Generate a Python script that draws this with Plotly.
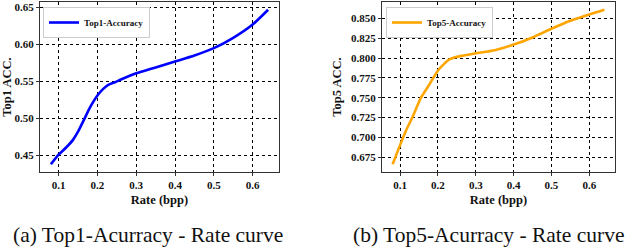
import plotly.graph_objects as go

# Top1 curve
rate1 = [0.08, 0.10, 0.12, 0.137, 0.15, 0.167, 0.18, 0.20, 0.215, 0.228, 0.245, 0.262, 0.30, 0.35, 0.40, 0.45, 0.50, 0.55, 0.60, 0.64]
acc1 = [0.438, 0.451, 0.461, 0.471, 0.482, 0.500, 0.514, 0.531, 0.540, 0.5455, 0.549, 0.553, 0.561, 0.569, 0.577, 0.585, 0.595, 0.609, 0.627, 0.647]

# Top5 curve
rate5 = [0.08, 0.10, 0.115, 0.133, 0.155, 0.177, 0.20, 0.215, 0.229, 0.245, 0.265, 0.30, 0.35, 0.40, 0.45, 0.50, 0.55, 0.60, 0.64]
acc5 = [0.666, 0.6905, 0.708, 0.726, 0.750, 0.7665, 0.7843, 0.792, 0.798, 0.801, 0.803, 0.806, 0.810, 0.817, 0.826, 0.837, 0.847, 0.855, 0.861]

xticks = [0.1, 0.2, 0.3, 0.4, 0.5, 0.6]
yticks1 = [0.45, 0.50, 0.55, 0.60, 0.65]
yticks5 = [0.675, 0.700, 0.725, 0.750, 0.775, 0.800, 0.825, 0.850]

captions = ["(a) Top1-Acurracy - Rate curve", "(b) Top5-Acurracy - Rate curve"]

W, H = 640, 248
SERIF = "Liberation Serif, Times New Roman, serif"

fig = go.Figure()
fig.add_trace(go.Scatter(x=rate1, y=acc1, mode="lines", name="Top1-Accuracy",
                         line=dict(color="#0000ff", width=2.6, shape="spline", smoothing=0.6),
                         xaxis="x", yaxis="y", legend="legend"))
fig.add_trace(go.Scatter(x=rate5, y=acc5, mode="lines", name="Top5-Accuracy",
                         line=dict(color="#ffa500", width=2.6, shape="spline", smoothing=0.6),
                         xaxis="x2", yaxis="y2", legend="legend2"))

def px_x(v):
    return v / W

def px_y(v):
    return 1 - v / H

tickfont = dict(family=SERIF, size=11, color="#111", weight="bold")
titlefont = dict(family=SERIF, size=12.5, color="#111", weight="bold")

common_axis = dict(showline=True, linecolor="#333", linewidth=1.3, mirror=True,
                   showgrid=True, gridcolor="black", griddash="dot", gridwidth=1,
                   ticks="outside", ticklen=3, tickcolor="#333", tickfont=tickfont,
                   zeroline=False)

def rng(vals, m=0.05):
    lo, hi = min(vals), max(vals)
    d = (hi - lo) * m
    return [lo - d, hi + d]

legend_font = dict(family=SERIF, size=9, color="#111", weight="bold")

fig.update_layout(
    width=W, height=H, margin=dict(l=0, r=0, t=0, b=0),
    paper_bgcolor="white", plot_bgcolor="white",
    xaxis=dict(domain=[px_x(40), px_x(279)], range=rng(rate1), tickvals=xticks,
               ticktext=[f"{v:.1f}" for v in xticks], anchor="y",
               title=dict(text="Rate (bpp)", font=titlefont, standoff=4), **common_axis),
    yaxis=dict(domain=[px_y(172), px_y(2)], range=rng(acc1), tickvals=yticks1,
               ticktext=[f"{v:.2f}" for v in yticks1], anchor="x",
               title=dict(text="Top1 ACC.", font=titlefont, standoff=6), **common_axis),
    xaxis2=dict(domain=[px_x(382), px_x(615)], range=rng(rate5), tickvals=xticks,
                ticktext=[f"{v:.1f}" for v in xticks], anchor="y2",
                title=dict(text="Rate (bpp)", font=titlefont, standoff=4), **common_axis),
    yaxis2=dict(domain=[px_y(172), px_y(2)], range=rng(acc5), tickvals=yticks5,
                ticktext=[f"{v:.3f}" for v in yticks5], anchor="x2",
                title=dict(text="Top5 ACC.", font=titlefont, standoff=6), **common_axis),
    legend=dict(x=px_x(43), y=px_y(7), xanchor="left", yanchor="top",
                bgcolor="white", bordercolor="#cccccc", borderwidth=1,
                font=legend_font, itemwidth=30, tracegroupgap=0),
    legend2=dict(x=px_x(386), y=px_y(7), xanchor="left", yanchor="top",
                 bgcolor="white", bordercolor="#cccccc", borderwidth=1,
                 font=legend_font, itemwidth=30, tracegroupgap=0),
    showlegend=True,
)

cap_x = [148, 489]
for cx, text in zip(cap_x, captions):
    fig.add_annotation(text=text, x=px_x(cx), y=0, xref="paper", yref="paper",
                       xanchor="center", yanchor="bottom", showarrow=False, borderpad=0,
                       font=dict(family=SERIF, size=21.5, color="#111"))

fig.write_html("out.html", config={"displayModeBar": False},
               post_script="document.body.style.margin='0';document.body.style.overflow='hidden';")
